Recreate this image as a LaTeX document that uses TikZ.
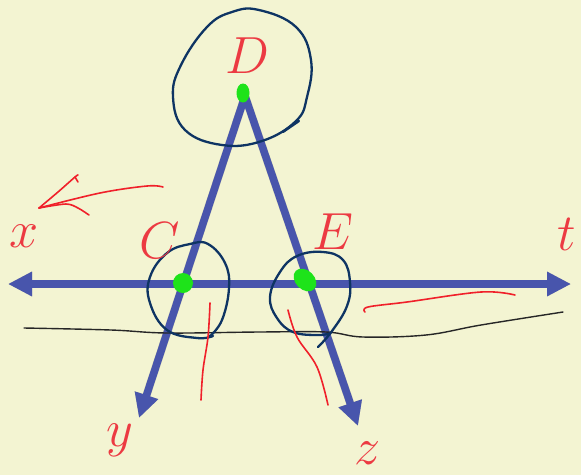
\documentclass[tikz,border=0pt]{standalone}
\usetikzlibrary{arrows.meta}
\definecolor{bg}{HTML}{F3F4D2}
\definecolor{lineblue}{HTML}{4855AC}
\definecolor{navy}{HTML}{0E3463}
\definecolor{dotgreen}{HTML}{1EE31A}
\definecolor{penred}{HTML}{F0202A}
\definecolor{lblred}{HTML}{EC3A42}
\tikzset{
  blueline/.style={draw=lineblue,line width=7.5pt},
  tri/.style={-{Triangle[length=24pt,width=23pt]}},
  shadowline/.style={draw=black,opacity=0.18,line width=8pt},
  navystroke/.style={draw=navy,line width=2.3pt,line cap=round,line join=round},
  redstroke/.style={draw=penred,line width=1.6pt,line cap=round,line join=round},
  blackstroke/.style={draw=black!85,line width=1.4pt,line cap=round},
  greendot/.style={fill=dotgreen,draw=none},
  lbl/.style={text=lblred,font=\Huge,scale=2.1,inner sep=0pt}
}
\begin{document}
\begin{tikzpicture}[x=1pt,y=-1pt]
\fill[bg] (0,0) rectangle (581,475);
\useasboundingbox (0,0) rectangle (581,475);

% points
\coordinate (Dp) at (245,96);
\coordinate (Cp) at (183,283);
\coordinate (Ep) at (307,281);
\coordinate (ytip) at (139,418);
\coordinate (ztip) at (358,426);
\coordinate (ltip) at (8,284);
\coordinate (rtip) at (571,284);

% shadows
\begin{scope}[shift={(1.5,3)}]
\draw[shadowline,tri] (Dp) -- (ytip);
\draw[shadowline,tri] (Dp) -- (ztip);
\draw[shadowline,{Triangle[length=24pt,width=23pt]}-{Triangle[length=24pt,width=23pt]}] (ltip) -- (rtip);
\end{scope}

% blue lines
\draw[blueline,tri] (Dp) -- (ytip);
\draw[blueline,tri] (Dp) -- (ztip);
\draw[blueline,{Triangle[length=24pt,width=23pt]}-{Triangle[length=24pt,width=23pt]}] (ltip) -- (rtip);

% black wavy line
\draw[blackstroke] plot[smooth,tension=0.6] coordinates {(24,328) (111,330) (167,333) (259,332) (326,332) (363,337) (426,335) (481,325) (563,312)};

% navy circles
\draw[navystroke] plot[smooth cycle,tension=0.7] coordinates {(259,10) (296,27) (311,60) (307,97) (296,121) (262,141) (222,145) (185,130) (173,97) (181,65) (207,27) (232,12)};
\draw[navystroke] (283,132) -- (299,121);
\draw[navystroke] plot[smooth,tension=0.7] coordinates {(213,336) (197,338) (167,330) (150,303) (150,277) (167,253) (190,244) (208,244) (225,263) (229,288) (222,320) (210,336)};
\draw[navystroke] plot[smooth,tension=0.7] coordinates {(318,347) (332,331) (347,306) (350,282) (343,260) (323,252) (297,256) (280,272) (270,297) (277,318) (293,332) (318,335) (331,333)};

% red strokes
\draw[redstroke] plot[smooth,tension=0.6] coordinates {(210,303) (208,337) (203,370) (201,400)};
\draw[redstroke] plot[smooth,tension=0.6] coordinates {(288,310) (297,337) (317,367) (328,405)};
\draw[redstroke] plot[smooth,tension=0.6] coordinates {(365,312) (368,307) (407,302) (481,292) (515,295)};
% red arrow near x
\draw[redstroke] plot[smooth,tension=0.6] coordinates {(163,187) (147,186) (100,193) (39,208)};
\draw[redstroke] plot[smooth,tension=0.5] coordinates {(39,208) (58,192) (75,177) (78,175)};
\draw[redstroke] (75,177) -- (78,182);
\draw[redstroke] plot[smooth,tension=0.5] coordinates {(39,208) (66,204) (78,208) (89,215)};

% green dots
\fill[greendot] (243,93) ellipse[x radius=6.5,y radius=9.5];
\fill[greendot] (Cp) circle[radius=10];
\fill[greendot,rotate around={-45:(305,280)}] (305,280) ellipse[x radius=13,y radius=9.5];

% labels
\node[lbl] (lD) at (247,56) {$D$};
\node[lbl] (lC) at (160,241) {$C$};
\node[lbl] (lE) at (333,232) {$E$};
\node[lbl] (lt) at (567,234) {$t$};
\node[lbl] (lx) at (24,236) {$x$};
\node[lbl] (ly) at (120,440) {$y$};
\node[lbl] (lz) at (368,453) {$z$};
\end{tikzpicture}
\end{document}
